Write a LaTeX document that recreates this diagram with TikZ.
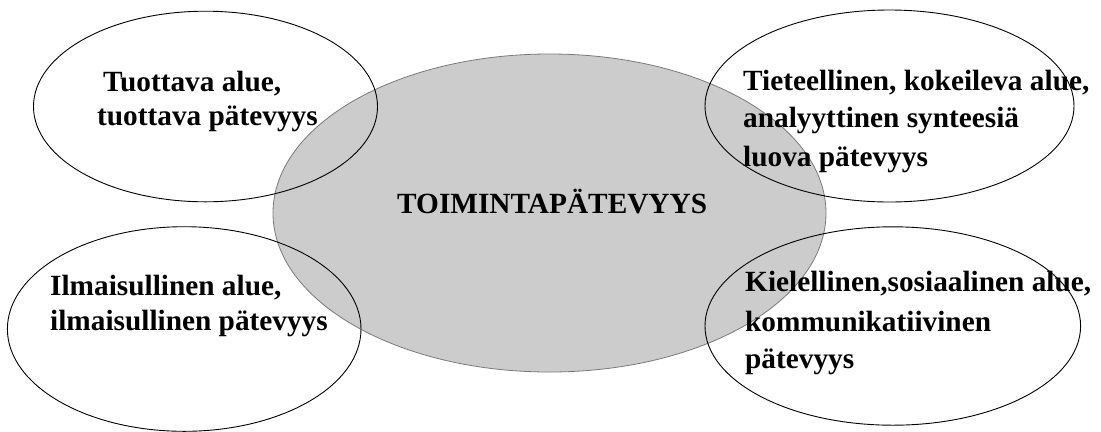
\documentclass[tikz,border=0pt]{standalone}
\usepackage{fontspec}
\setmainfont{Liberation Serif}
\begin{document}
\begin{tikzpicture}[x=1bp,y=-1bp,
  core/.style={fill=coreGrey,draw=coreEdge,line width=0.8bp},
  area/.style={draw=black,line width=0.9bp},
  label/.style={anchor=base west,inner sep=0pt,font=\bfseries\fontsize{29.3bp}{36bp}\selectfont}]
\definecolor{coreGrey}{HTML}{CCCCCC}
\definecolor{coreEdge}{HTML}{7A7A7A}
\useasboundingbox (0,0) rectangle (1101,431);

% central competence
\path[core] (549.5,213) ellipse [x radius=276.5bp, y radius=159bp];

% four surrounding areas
\path[area] (205.5,106.5) ellipse [x radius=172bp, y radius=95.3bp];
\path[area] (889.5,106) ellipse [x radius=184.5bp, y radius=96bp];
\path[area] (184.2,329) ellipse [x radius=176.8bp, y radius=102.3bp];
\path[area] (892.8,326) ellipse [x radius=187.8bp, y radius=99.2bp];

% texts
\node[label] (core) at (397,213) {TOIMINTAPÄTEVYYS};

\node[label] (tl1) at (103,91.7) {Tuottava alue,};
\node[label] (tl2) at (97,125) {tuottava pätevyys};

\node[label] (tr1) at (743,90.7) {Tieteellinen, kokeileva alue,};
\node[label] (tr2) at (743,127.5) {analyyttinen synteesiä};
\node[label] (tr3) at (743,166) {luova pätevyys};

\node[label] (bl1) at (50,295) {Ilmaisullinen alue,};
\node[label] (bl2) at (50,330) {ilmaisullinen pätevyys};

\node[label] (br1) at (745,291.7) {Kielellinen,sosiaalinen alue,};
\node[label] (br2) at (745,331) {kommunikatiivinen};
\node[label] (br3) at (745,368) {pätevyys};
\end{tikzpicture}
\end{document}
